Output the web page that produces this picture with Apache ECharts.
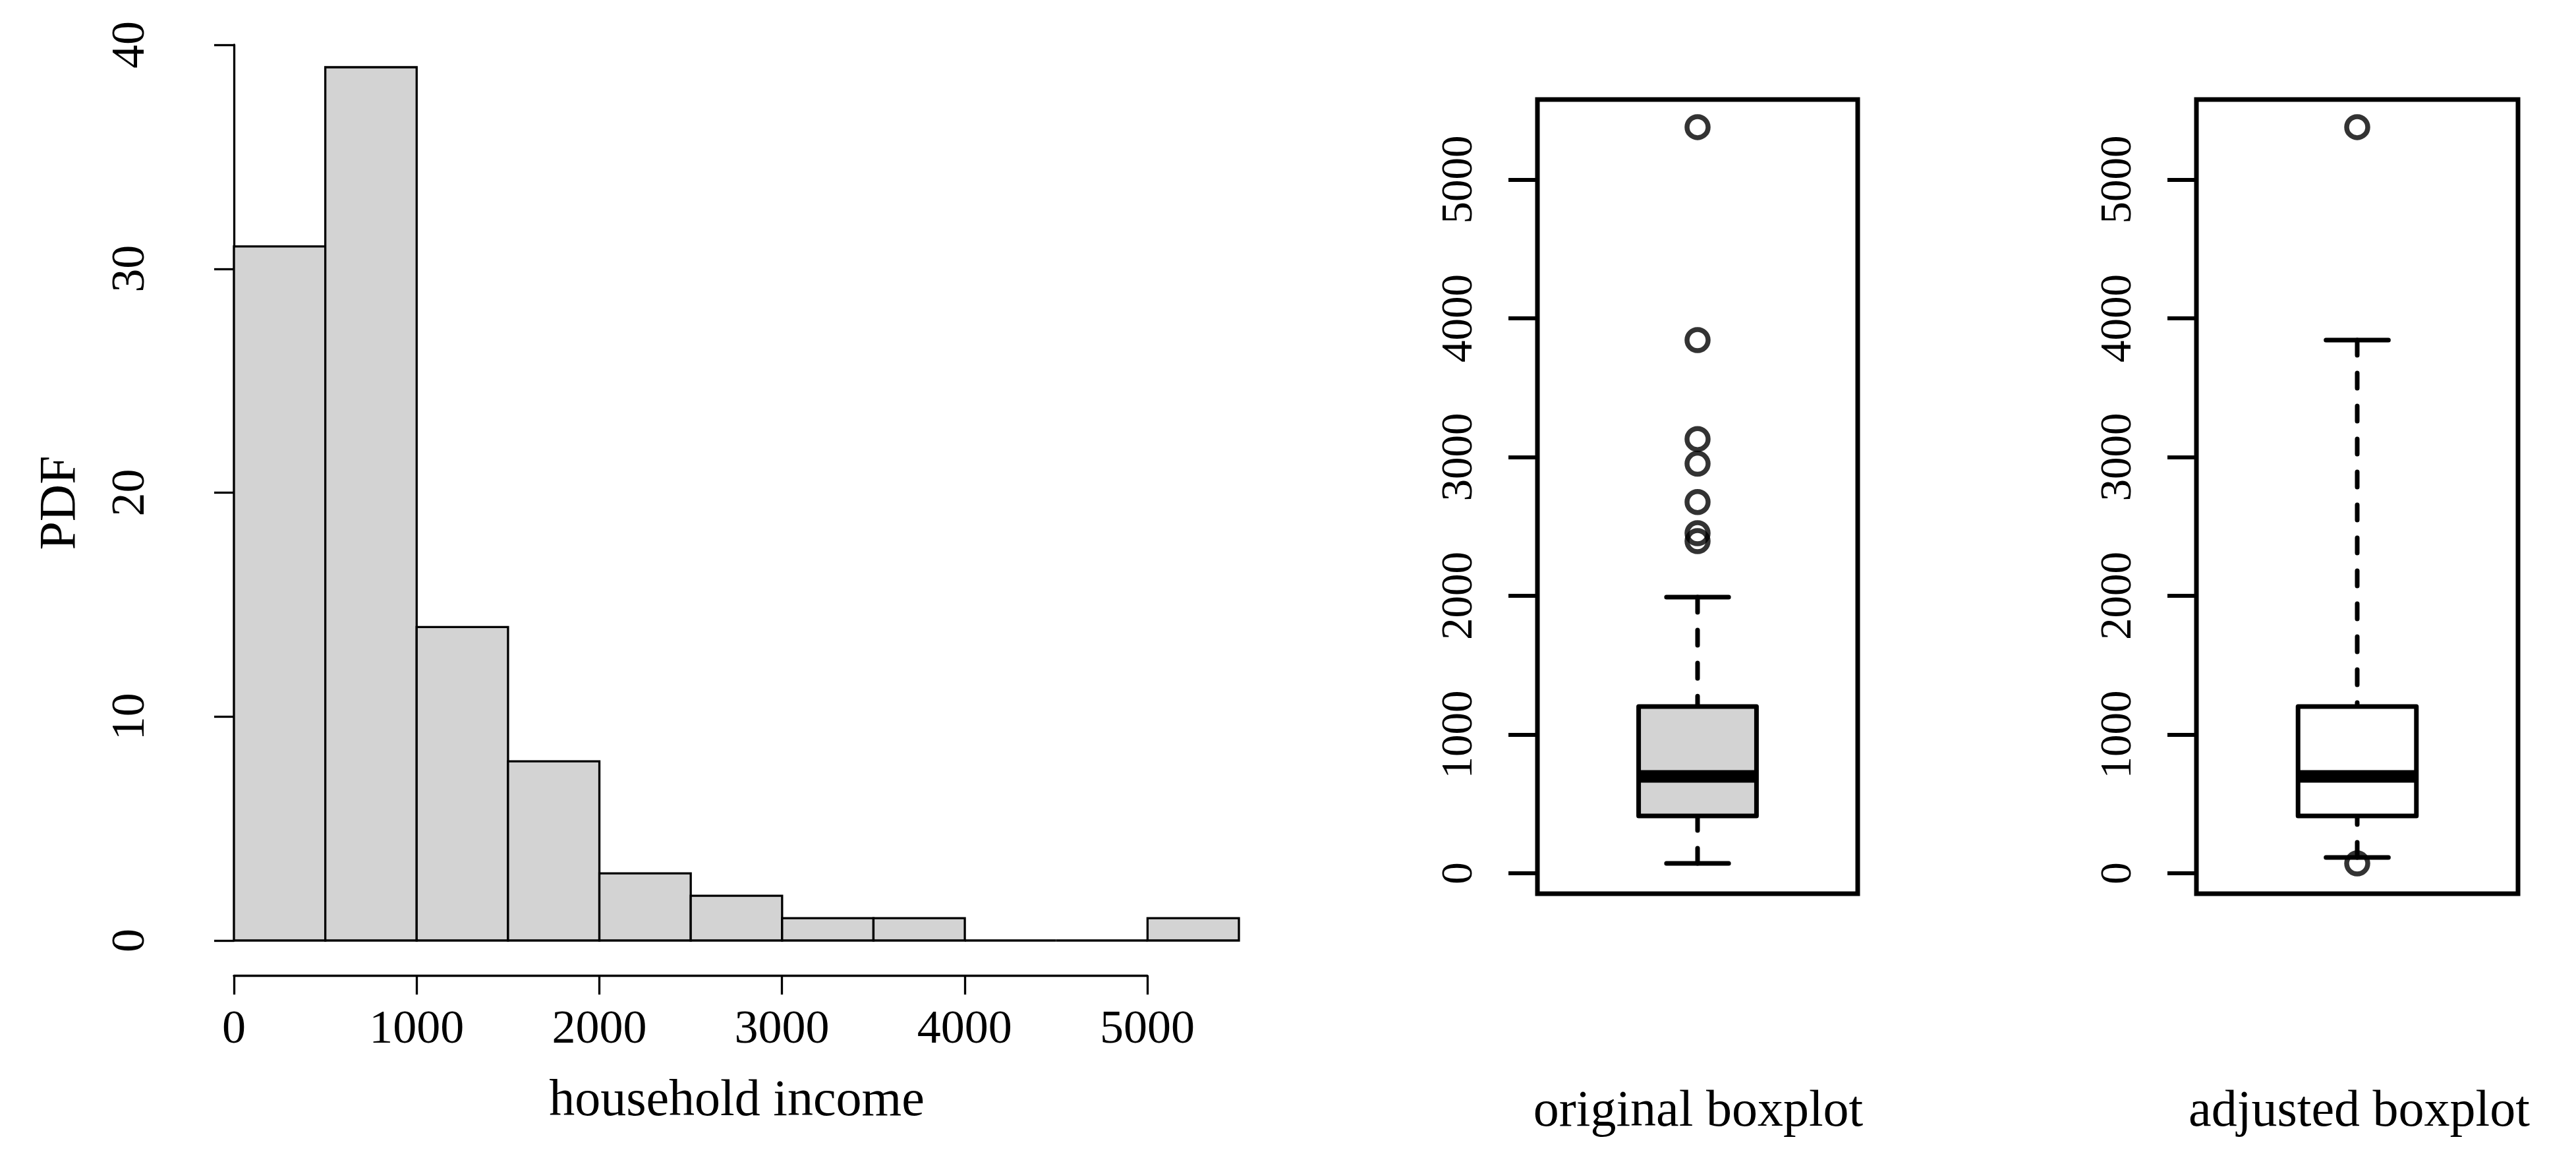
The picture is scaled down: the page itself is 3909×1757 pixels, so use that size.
<!DOCTYPE html>
<html>
<head>
<meta charset="utf-8">
<script src="https://cdn.jsdelivr.net/npm/echarts@6/dist/echarts.min.js"></script>
<style>
html,body{margin:0;padding:0;background:#fff;}
#chart{width:3909px;height:1757px;}
</style>
</head>
<body>
<div id="chart"></div>
<script>
// ---- data ----
const binStarts = [0, 500, 1000, 1500, 2000, 2500, 3000, 3500, 4000, 4500, 5000];
const binEnds   = [500, 1000, 1500, 2000, 2500, 3000, 3500, 4000, 4500, 5000, 5500];
const counts    = [31, 39, 14, 8, 3, 2, 1, 1, 0, 0, 1];
const histYTicks = [0, 10, 20, 30, 40];
const histXTicks = [0, 1000, 2000, 3000, 4000, 5000];
const boxYTicks  = [0, 1000, 2000, 3000, 4000, 5000];
// [lower whisker, Q1, median, Q3, upper whisker]
const originalStats    = [71, 413, 698, 1202, 1990];
const originalOutliers = [2394, 2451, 2676, 2952, 3130, 3843, 5378];
const adjustedStats    = [114, 413, 698, 1202, 3843];
const adjustedOutliers = [71, 5378];
const xTitle = 'household income';
const yTitle = 'PDF';
const boxTitles = ['original boxplot', 'adjusted boxplot'];

// ---- styles ----
const FONT = '"Liberation Serif", "DejaVu Serif", serif';
const GRAY = '#d3d3d3';
const plain = v => String(v);

const chart = echarts.init(document.getElementById('chart'), null, {renderer: 'canvas', devicePixelRatio: 1});

const histData = binStarts.map((s, i) => [s, binEnds[i], counts[i]]);

function histItem(params, api) {
  const p0 = api.coord([api.value(0), 0]);
  const p1 = api.coord([api.value(1), api.value(2)]);
  return {
    type: 'rect',
    shape: {x: p0[0], y: p1[1], width: p1[0] - p0[0], height: p0[1] - p1[1]},
    style: {fill: GRAY, stroke: '#000', lineWidth: 3.3}
  };
}

function boxRenderer(fillColor) {
  return function (params, api) {
    const cx = api.coord([0, 0])[0];
    const band = api.size([1, 0])[0];
    const hb = band * 0.184, hc = band * 0.097;
    const y = i => api.coord([0, api.value(i)])[1];
    const lo = y(1), q1 = y(2), md = y(3), q3 = y(4), hi = y(5);
    const lw = 7;
    const dash = {stroke: '#000', lineWidth: lw, lineDash: [23, 27], lineCap: 'round'};
    const solid = {stroke: '#000', lineWidth: lw, lineCap: 'round'};
    return {
      type: 'group',
      children: [
        {type: 'line', shape: {x1: cx, y1: hi, x2: cx, y2: q3}, style: dash},
        {type: 'line', shape: {x1: cx, y1: lo, x2: cx, y2: q1}, style: dash},
        {type: 'line', shape: {x1: cx - hc, y1: hi, x2: cx + hc, y2: hi}, style: solid},
        {type: 'line', shape: {x1: cx - hc, y1: lo, x2: cx + hc, y2: lo}, style: solid},
        {type: 'rect', shape: {x: cx - hb, y: q3, width: 2 * hb, height: q1 - q3},
          style: {fill: fillColor, stroke: '#000', lineWidth: lw, lineJoin: 'round'}},
        {type: 'line', shape: {x1: cx - hb, y1: md, x2: cx + hb, y2: md},
          style: {stroke: '#000', lineWidth: 19, lineCap: 'butt'}}
      ]
    };
  };
}

const boxYAxis = (gi) => ({
  type: 'value', gridIndex: gi, min: -147, max: 5577,
  splitLine: {show: false},
  axisLine: {show: false},
  axisTick: {show: true, customValues: boxYTicks, length: 44, lineStyle: {color: '#000', width: 6}},
  axisLabel: {show: true, customValues: boxYTicks, rotate: 90, margin: 84, formatter: plain,
    fontFamily: FONT, fontSize: 67, color: '#000'}
});

const option = {
  backgroundColor: '#fff',
  animation: false,
  grid: [
    {left: 355, top: 68, width: 1525, height: 1359},          // histogram
    {left: 355, top: 1380, width: 1386, height: 100},         // histogram x axis
    {left: 2333, top: 151, width: 486, height: 1205, show: true, borderColor: '#000', borderWidth: 7, backgroundColor: 'transparent'},
    {left: 3333, top: 151, width: 488, height: 1205, show: true, borderColor: '#000', borderWidth: 7, backgroundColor: 'transparent'}
  ],
  xAxis: [
    {type: 'value', gridIndex: 0, min: 0, max: 5500, show: false},
    {type: 'value', gridIndex: 1, min: 0, max: 5000, interval: 1000,
      splitLine: {show: false},
      axisLine: {show: true, lineStyle: {color: '#000', width: 3.3}},
      axisTick: {show: true, length: 29, lineStyle: {color: '#000', width: 3.3}},
      axisLabel: {show: true, margin: 47, fontFamily: FONT, fontSize: 72, color: '#000',
        formatter: plain, customValues: histXTicks}},
    {type: 'category', gridIndex: 2, data: ['original'], show: false},
    {type: 'category', gridIndex: 3, data: ['adjusted'], show: false}
  ],
  yAxis: [
    {type: 'value', gridIndex: 0, min: 0, max: 40, interval: 10, offset: 62,
      splitLine: {show: false},
      axisLine: {show: true, lineStyle: {color: '#000', width: 3.3}},
      axisTick: {show: true, length: 30, lineStyle: {color: '#000', width: 3.3}},
      axisLabel: {show: true, rotate: 90, margin: 58, fontFamily: FONT, fontSize: 72, color: '#000',
        formatter: plain, customValues: histYTicks}},
    {type: 'value', gridIndex: 1, min: 0, max: 1, show: false},
    boxYAxis(2),
    boxYAxis(3)
  ],
  series: [
    {type: 'custom', xAxisIndex: 0, yAxisIndex: 0, renderItem: histItem,
      encode: {x: [0, 1], y: 2}, data: histData, silent: true},
    {type: 'custom', xAxisIndex: 2, yAxisIndex: 2, renderItem: boxRenderer(GRAY),
      encode: {x: 0, y: [1, 2, 3, 4, 5]}, data: [[0].concat(originalStats)], silent: true, z: 3},
    {type: 'scatter', xAxisIndex: 2, yAxisIndex: 2, symbol: 'circle', symbolSize: 32,
      itemStyle: {color: 'rgba(0,0,0,0)', borderColor: '#000', borderWidth: 7.5},
      data: originalOutliers.map(v => [0, v]), silent: true, z: 4},
    {type: 'custom', xAxisIndex: 3, yAxisIndex: 3, renderItem: boxRenderer('#fff'),
      encode: {x: 0, y: [1, 2, 3, 4, 5]}, data: [[0].concat(adjustedStats)], silent: true, z: 3},
    {type: 'scatter', xAxisIndex: 3, yAxisIndex: 3, symbol: 'circle', symbolSize: 32,
      itemStyle: {color: 'rgba(0,0,0,0)', borderColor: '#000', borderWidth: 7.5},
      data: adjustedOutliers.map(v => [0, v]), silent: true, z: 4}
  ],
  graphic: [
    {type: 'text', x: 1118, y: 1672, style: {text: xTitle, font: '78px ' + FONT, fill: '#000',
      textAlign: 'center', textVerticalAlign: 'middle'}},
    {type: 'text', x: 93, y: 763, rotation: Math.PI / 2, style: {text: yTitle, font: '78px ' + FONT, fill: '#000',
      textAlign: 'center', textVerticalAlign: 'middle'}},
    {type: 'text', x: 2577, y: 1688, style: {text: boxTitles[0], font: '78px ' + FONT, fill: '#000',
      textAlign: 'center', textVerticalAlign: 'middle'}},
    {type: 'text', x: 3580, y: 1688, style: {text: boxTitles[1], font: '78px ' + FONT, fill: '#000',
      textAlign: 'center', textVerticalAlign: 'middle'}}
  ]
};
chart.setOption(option);
</script>
</body>
</html>
